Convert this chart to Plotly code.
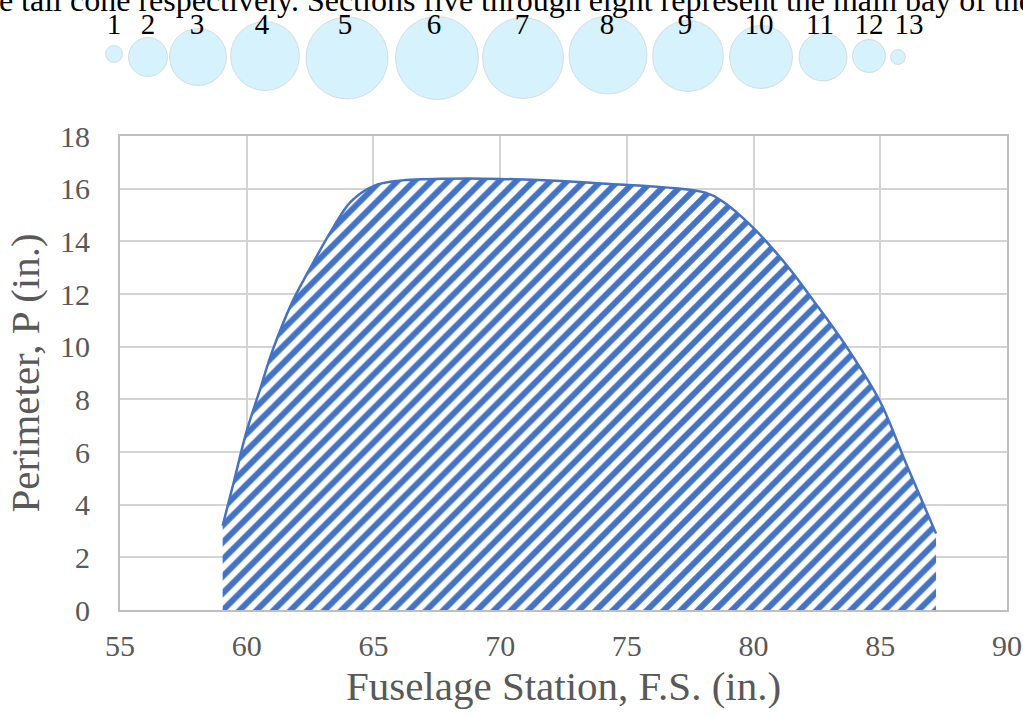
import plotly.graph_objects as go

# Perimeter distribution along the fuselage
station_in = [59.05, 59.5, 60.0, 60.5, 61.0, 61.8, 62.4, 63.4, 64.1, 65.0, 66.0,
              68.0, 70.0, 74.0, 78.1, 78.8, 80.0, 81.3, 82.4, 83.7, 85.0, 86.0, 87.2]
perimeter_in = [3.2, 4.9, 6.8, 8.3, 9.8, 11.7, 12.8, 14.5, 15.5, 16.1, 16.3,
                16.38, 16.37, 16.2, 15.85, 15.5, 14.5, 13.1, 11.7, 9.95, 7.9, 5.6, 2.9]

# Cross-section sketch above the chart (sections 1-13)
section_labels = [str(i) for i in range(1, 14)]
section_diam_px = [17, 39, 57, 69, 82, 83, 81, 78, 71, 63, 48, 33, 15]
sketch_x = [114, 148, 198, 265, 347, 437, 523, 608, 688, 761, 823, 869, 898]
sketch_y = [54, 57, 57, 56, 58, 58, 58, 55, 56, 57, 57, 56, 57]
label_x = [114, 148, 197, 262, 345, 434, 522, 607, 685, 759, 820, 869, 909]
label_y = [27] * 13

caption = ("the tail cone respectively. Sections five through eight "
           "represent the main bay of the")

x_ticks = [55, 60, 65, 70, 75, 80, 85, 90]
y_ticks = [0, 2, 4, 6, 8, 10, 12, 14, 16, 18]

SERIF = "Liberation Serif, Times New Roman, serif"
BLUE = "#4472C4"
GRID = "#D4D4D4"
TXT = "#595959"

W, H = 1023, 717
ML, MR, MT, MB = 0, 16, 0, 107
plot_w = W - ML - MR
plot_h = H - MT - MB

fig = go.Figure()

fig.add_trace(go.Scatter(
    x=station_in, y=perimeter_in,
    mode="lines",
    line=dict(color=BLUE, width=2.5, shape="spline", smoothing=1.0),
    fill="tozeroy",
    fillcolor="white",
    fillpattern=dict(shape="/", fgcolor=BLUE, bgcolor="white",
                     fgopacity=1, size=12, solidity=0.5),
    hoverinfo="skip",
    showlegend=False,
))

# Section circles and their numbers
fig.add_trace(go.Scatter(
    x=sketch_x, y=sketch_y,
    mode="markers",
    marker=dict(size=section_diam_px, sizemode="diameter", color="#C6EDFC",
                line=dict(color="rgba(170,170,170,0.5)", width=1)),
    xaxis="x2", yaxis="y2",
    cliponaxis=False,
    hoverinfo="skip",
    showlegend=False,
))
fig.add_trace(go.Scatter(
    x=label_x, y=label_y,
    mode="text",
    text=section_labels,
    textfont=dict(family=SERIF, size=29, color="black"),
    xaxis="x2", yaxis="y2",
    cliponaxis=False,
    hoverinfo="skip",
    showlegend=False,
))

x0_frac = 120 / plot_w
ytop_frac = (610 - 136) / plot_h
sketch_bottom_px = 122

fig.update_layout(
    width=W, height=H,
    margin=dict(l=ML, r=MR, t=MT, b=MB, autoexpand=False),
    paper_bgcolor="white",
    plot_bgcolor="white",
    xaxis=dict(
        domain=[x0_frac, 1], range=[55, 90],
        tickmode="array", tickvals=x_ticks,
        showgrid=True, gridcolor=GRID, gridwidth=2,
        showline=True, linecolor="#BFBFBF", linewidth=2, mirror=True,
        zeroline=False, ticks="", automargin=False,
        tickfont=dict(family=SERIF, size=30, color=TXT),
        ticklabelstandoff=8,
        title=dict(text="Fuselage Station, F.S. (in.)",
                   font=dict(family=SERIF, size=41, color=TXT), standoff=10),
        anchor="y",
    ),
    yaxis=dict(
        domain=[0, ytop_frac], range=[0, 18],
        tickmode="array", tickvals=y_ticks,
        showgrid=True, gridcolor=GRID, gridwidth=2,
        showline=True, linecolor="#BFBFBF", linewidth=2, mirror=True,
        zeroline=False, ticks="", automargin=False,
        tickfont=dict(family=SERIF, size=30, color=TXT),
        ticklabelstandoff=22,
        title=dict(text="Perimeter, P (in.)",
                   font=dict(family=SERIF, size=41, color=TXT), standoff=8),
        anchor="x",
    ),
    xaxis2=dict(domain=[0, 1], range=[0, plot_w], visible=False,
                anchor="y2", fixedrange=True, automargin=False),
    yaxis2=dict(domain=[1 - sketch_bottom_px / plot_h, 1],
                range=[sketch_bottom_px, 0], visible=False,
                anchor="x2", fixedrange=True, automargin=False),
    annotations=[dict(
        text=caption, xref="paper", yref="paper",
        x=-28 / plot_w, y=1, xanchor="left", yanchor="bottom",
        yshift=-20, showarrow=False,
        font=dict(family=SERIF, size=32, color="black"),
    )],
)

fig.write_html("out.html")
